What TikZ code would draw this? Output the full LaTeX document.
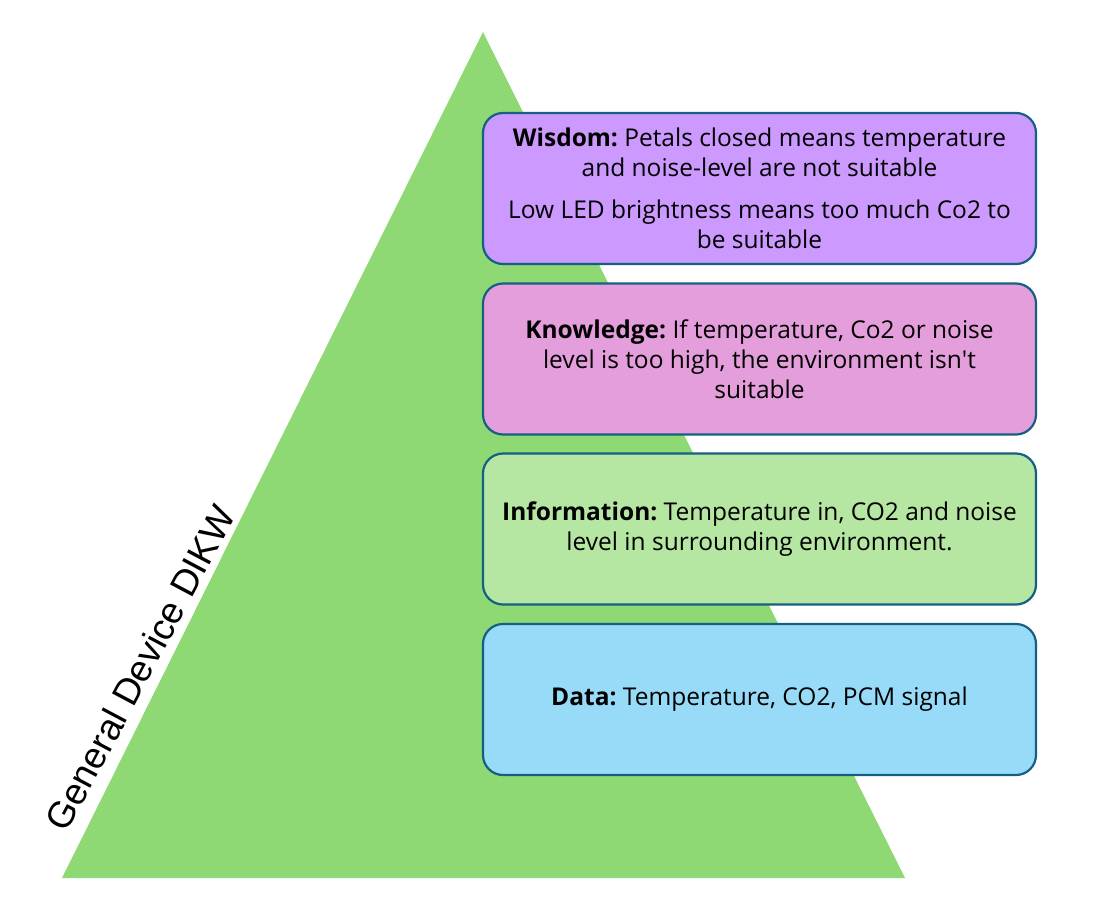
\documentclass[tikz,border=0pt]{standalone}
\usepackage{fontspec}
\setmainfont{Open Sans}
\newfontfamily\arialfont{Liberation Sans}
\usepackage{xcolor}
\definecolor{pyrgreen}{HTML}{8FD974}
\definecolor{boxline}{HTML}{156082}
\definecolor{wisdomfill}{HTML}{CC99FF}
\definecolor{knowfill}{HTML}{E59EDC}
\definecolor{infofill}{HTML}{B5E6A2}
\definecolor{datafill}{HTML}{97DBF8}
\frenchspacing
\tikzset{
    layer/.style={draw=boxline, line width=2.2pt, rounded corners=20pt,
        minimum width=553pt, minimum height=151pt,
        align=center, inner sep=0pt, font=\fontsize{24.5}{30}\selectfont}
}

\begin{document}
\begin{tikzpicture}[x=1pt, y=-1pt]
        \useasboundingbox (0,0) rectangle (1105,902);
        \coordinate (top) at (483, 32);
        \coordinate (bl) at (62, 878);
        \coordinate (br) at (905, 878);
        \fill[pyrgreen] (top) -- (br) -- (bl) -- cycle;

        \node[rotate=62, font=\arialfont\fontsize{37}{40}\selectfont] at (140, 668) (title) {General Device DIKW};

        \node[layer, fill=wisdomfill] at (759.5, 188.5) (W) {\textbf{Wisdom:} Petals closed means temperature\\and noise-level are not suitable\\[12pt]Low LED brightness means too much Co2 to\\be suitable};
        \node[layer, fill=knowfill] at (759.5, 359) (K) {\textbf{Knowledge:} If temperature, Co2 or noise\\level is too high, the environment isn\textquotesingle t\\suitable};
        \node[layer, fill=infofill] at (759.5, 529) (I) {\textbf{Information:} Temperature in, CO2 and noise\\level in surrounding environment.};
        \node[layer, fill=datafill] at (759.5, 699.5) (D) {\textbf{Data:} Temperature, CO2, PCM signal};
\end{tikzpicture}
\end{document}
